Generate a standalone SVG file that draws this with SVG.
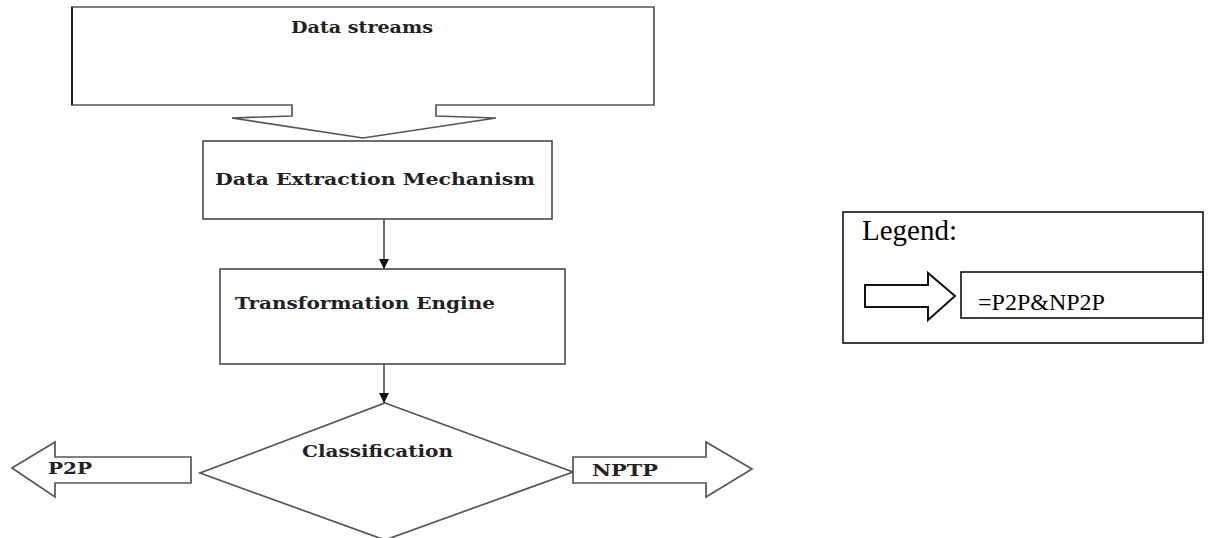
<svg xmlns="http://www.w3.org/2000/svg" width="1212" height="538" viewBox="0 0 1212 538">
  <defs>
    <marker id="arrowhead" viewBox="0 0 10 10" refX="10" refY="5" markerWidth="10" markerHeight="10" markerUnits="userSpaceOnUse" orient="auto">
      <path d="M0,0 L10,5 L0,10 Z" fill="#111"/>
    </marker>
  </defs>
  <style>
    .shape { fill: #fff; stroke: #555; stroke-width: 1.7; }
    .label { font-family: "DejaVu Serif", "Liberation Serif", serif; font-size: 17px; font-weight: bold; fill: #222; }
    .legend { font-family: "Liberation Serif", "Times New Roman", serif; fill: #000; }
    .edge { stroke: #555; stroke-width: 1.7; fill: none; marker-end: url(#arrowhead); }
  </style>
  <rect width="1212" height="538" fill="#fff"/>

  <!-- Data streams: box with a notched block arrow pointing down -->
  <g id="data-streams">
    <path class="shape" d="M72,7 L654,7 L654,105 L436,105 L436,116 L496,118 L363,138 L232,118 L292,116 L292,105 L72,105 Z"/>
    <line x1="72" y1="7" x2="72" y2="105" stroke="#222" stroke-width="2"/>
    <text class="label" x="291" y="33" textLength="142" lengthAdjust="spacingAndGlyphs">Data streams</text>
  </g>

  <g id="data-extraction">
    <rect class="shape" x="203" y="141" width="349" height="78"/>
    <text class="label" x="215" y="185" textLength="320" lengthAdjust="spacingAndGlyphs">Data Extraction Mechanism</text>
  </g>

  <g id="transformation-engine">
    <rect class="shape" x="220" y="269" width="345" height="95"/>
    <text class="label" x="235" y="309" textLength="260" lengthAdjust="spacingAndGlyphs">Transformation Engine</text>
  </g>

  <g id="classification">
    <polygon class="shape" points="385,403 573,472 385,540 200,473"/>
    <text class="label" x="302" y="457" textLength="151" lengthAdjust="spacingAndGlyphs">Classification</text>
  </g>

  <g id="p2p">
    <polygon class="shape" points="12,468 55,442 55,457 191,457 191,483 55,483 55,497"/>
    <text class="label" x="48" y="474" textLength="44" lengthAdjust="spacingAndGlyphs">P2P</text>
  </g>

  <g id="nptp">
    <polygon class="shape" points="573,457 706,457 706,442 752,469 706,497 706,483 573,483"/>
    <text class="label" x="592" y="476" textLength="66" lengthAdjust="spacingAndGlyphs">NPTP</text>
  </g>

  <g id="connectors">
    <line class="edge" x1="384" y1="219" x2="384" y2="269"/>
    <line class="edge" x1="384" y1="364" x2="384" y2="403"/>
  </g>

  <!-- Legend panel -->
  <g id="legend">
    <rect x="843" y="212" width="360" height="131" fill="#fff" stroke="#111" stroke-width="1.6"/>
    <text class="legend" x="862" y="240" font-size="29">Legend:</text>
    <polygon points="865,285 928,285 928,273 955,296 928,320 928,307 865,307" fill="#fff" stroke="#111" stroke-width="2"/>
    <rect x="961" y="272" width="242" height="46" fill="#fff" stroke="#111" stroke-width="1.6"/>
    <text class="legend" x="978" y="310" font-size="24">=P2P&amp;NP2P</text>
  </g>
</svg>
